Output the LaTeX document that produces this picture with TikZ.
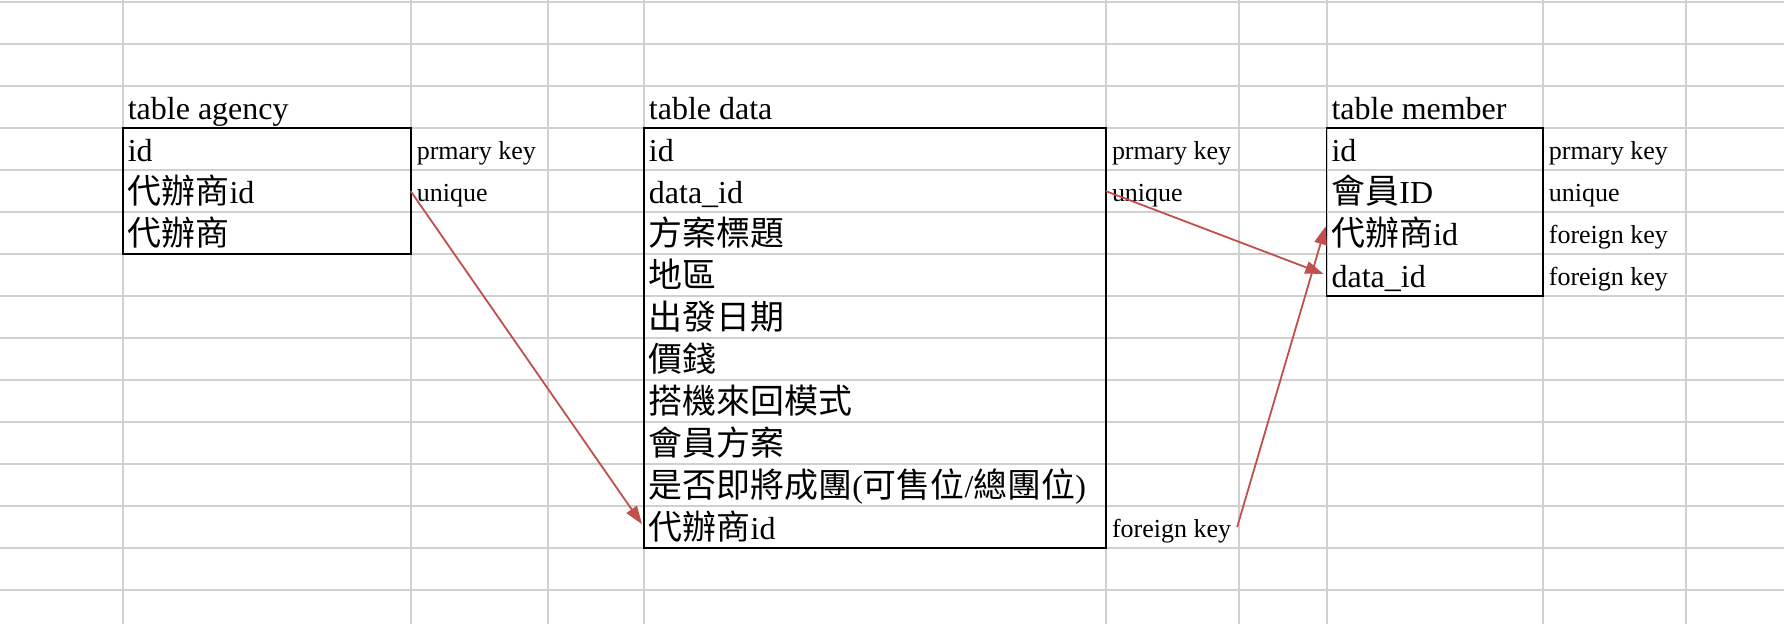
\documentclass[tikz,border=0pt]{standalone}
\usepackage{fontspec}
\setmainfont{Liberation Serif}
\newfontfamily\cjk[Scale=1.06]{Noto Sans CJK TC}
\usetikzlibrary{arrows.meta}
\definecolor{gridgray}{RGB}{208,208,208}
\definecolor{linkred}{RGB}{192,80,77}

\begin{document}
\begin{tikzpicture}[x=0.02cm, y=-0.02cm,
    field/.style ={anchor=west, inner xsep=0.08cm, inner ysep=0pt,
                   text height=0.588cm, text depth=0.15cm,
                   font=\fontsize{16}{18}\selectfont},
    keynote/.style ={anchor=west, inner xsep=0.1cm, inner ysep=0pt,
                   text height=0.548cm, text depth=0.19cm,
                   font=\fontsize{13}{15}\selectfont},
    tablebox/.style ={draw=black, line width=0.8pt},
    link/.style ={draw=linkred, line width=0.9pt, shorten >=0.06cm,
                  -{Triangle[length=0.32cm, width=0.22cm]}}]
   \useasboundingbox (0,0) rectangle (1568,548);
   % sheet grid
   \foreach \x in {108,361,482,566,972,1089,1166,1356,1482}
      \draw[gridgray, line width=1pt] (\x,0) -- (\x,548);
   \foreach \k in {0,...,14}
      \draw[gridgray, line width=1pt] (0,2+36.9*\k) -- (1568,2+36.9*\k);

   % table agency
   \node[field] (agency) at (108,94.25)  {table agency};
   \node[field] (ag1) at (108,131.15) {id};
   \node[field] (ag2) at (108,168.05) {{\cjk 代辦商}id};
   \node[field] (ag3) at (108,204.95) {{\cjk 代辦商}};
   \node[keynote] (agk1) at (361,131.15) {prmary key};
   \node[keynote] (agk2) at (361,168.05) {unique};
   \draw[tablebox] (108,112.7) rectangle (361,223.4);

   % table data
   \node[field] (data) at (566,94.25)  {table data};
   \node[field] (d1) at (566,131.15) {id};
   \node[field] (d2) at (566,168.05) {data\_id};
   \node[field] (d3) at (566,204.95) {{\cjk 方案標題}};
   \node[field] (d4) at (566,241.85) {{\cjk 地區}};
   \node[field] (d5) at (566,278.75) {{\cjk 出發日期}};
   \node[field] (d6) at (566,315.65) {{\cjk 價錢}};
   \node[field] (d7) at (566,352.55) {{\cjk 搭機來回模式}};
   \node[field] (d8) at (566,389.45) {{\cjk 會員方案}};
   \node[field] (d9) at (566,426.35) {{\cjk 是否即將成團}({\cjk 可售位}/{\cjk 總團位})};
   \node[field] (d10) at (566,463.25) {{\cjk 代辦商}id};
   \node[keynote] (dk1) at (972,131.15) {prmary key};
   \node[keynote] (dk2) at (972,168.05) {unique};
   \node[keynote] (dk10) at (972,463.25) {foreign key};
   \draw[tablebox] (566,112.7) rectangle (972,481.7);

   % table member
   \node[field] (member) at (1166,94.25)  {table member};
   \node[field] (m1) at (1166,131.15) {id};
   \node[field] (m2) at (1166,168.05) {{\cjk 會員}ID};
   \node[field] (m3) at (1166,204.95) {{\cjk 代辦商}id};
   \node[field] (m4) at (1166,241.85) {data\_id};
   \node[keynote] (mk1) at (1356,131.15) {prmary key};
   \node[keynote] (mk2) at (1356,168.05) {unique};
   \node[keynote] (mk3) at (1356,204.95) {foreign key};
   \node[keynote] (mk4) at (1356,241.85) {foreign key};
   \draw[tablebox] (1166,112.7) rectangle (1356,260.3);

   \draw[link] (agk2.west) to (d10.west);
   \draw[link] (dk2.west) to (m4.west);
   \draw[link] (dk10.east) to ([yshift=0.18cm]m3.west);
\end{tikzpicture}
\end{document}
